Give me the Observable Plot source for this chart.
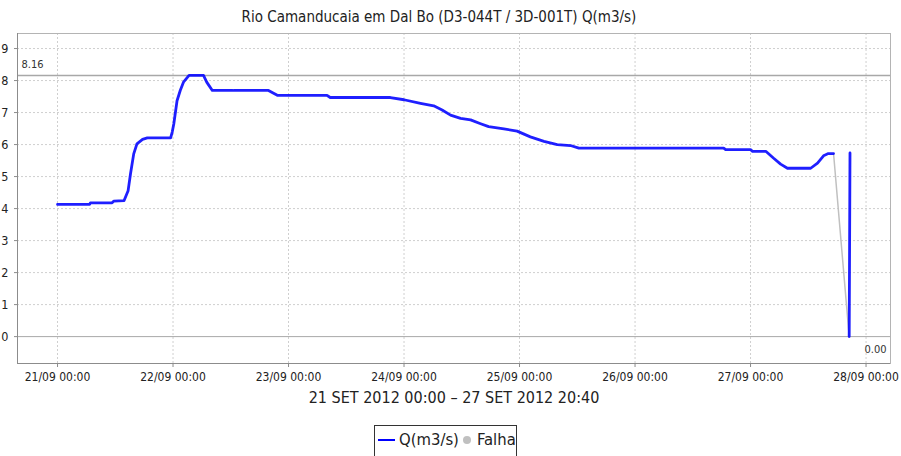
<!DOCTYPE html>
<html>
<head>
<meta charset="utf-8">
<script src="https://cdn.jsdelivr.net/npm/d3@7"></script>
<script src="https://cdn.jsdelivr.net/npm/@observablehq/plot@0.6"></script>
<style>
  html, body { margin: 0; padding: 0; background: #fff; }
  #wrap { position: relative; width: 901px; height: 456px; overflow: hidden; font-family: 'DejaVu Sans Condensed', 'DejaVu Sans', sans-serif; color: #222; }
  #title { position: absolute; left: 0; top: 8px; width: 878px; text-align: center; font-size: 15px; line-height: 18px; }
  #chart { position: absolute; left: 0; top: 0; }
  #legend { position: absolute; left: 374px; top: 425px; width: 141px; height: 40px; border: 1px solid #333; background: #fff; font-size: 16.5px; }
  #legend .sw { position: absolute; top: 13px; left: 3px; width: 17px; height: 2px; background: #0000ff; }
  #legend .t1 { position: absolute; top: 4px; left: 24px; line-height: 20px; }
  #legend .dot { position: absolute; top: 10px; left: 88px; width: 8px; height: 8px; border-radius: 50%; background: #c0c0c0; }
  #legend .t2 { position: absolute; top: 4px; left: 102px; line-height: 20px; }
</style>
</head>
<body>
<div id="wrap">
  <div id="title"></div>
  <div id="chart"></div>
  <div id="legend"><div class="sw"></div><div class="t1"></div><div class="dot"></div><div class="t2"></div></div>
</div>
<script>
// ---- data ----
const titleText = "Rio Camanducaia em Dal Bo (D3-044T / 3D-001T) Q(m3/s)";
const periodLabel = "21 SET 2012 00:00 – 27 SET 2012 20:40";
const seriesName = "Q(m3/s)";
const failName = "Falha";

const qTimes = [
  "2012-09-21T00:00","2012-09-21T06:40","2012-09-21T06:50","2012-09-21T11:20","2012-09-21T11:40",
  "2012-09-21T13:50","2012-09-21T14:40","2012-09-21T15:10","2012-09-21T15:50","2012-09-21T16:30",
  "2012-09-21T17:40","2012-09-21T18:40","2012-09-21T23:30","2012-09-21T23:50","2012-09-22T00:10",
  "2012-09-22T00:50","2012-09-22T01:30","2012-09-22T02:10","2012-09-22T03:20","2012-09-22T06:20",
  "2012-09-22T07:00","2012-09-22T08:10","2012-09-22T12:20","2012-09-22T12:30","2012-09-22T12:40",
  "2012-09-22T19:50","2012-09-22T21:40","2012-09-23T08:00","2012-09-23T08:40","2012-09-23T21:10",
  "2012-09-24T00:00","2012-09-24T03:25","2012-09-24T06:10","2012-09-24T07:55","2012-09-24T09:40",
  "2012-09-24T11:45","2012-09-24T13:50","2012-09-24T15:55","2012-09-24T17:35","2012-09-24T20:45",
  "2012-09-24T23:30","2012-09-25T02:15","2012-09-25T05:05","2012-09-25T07:50","2012-09-25T10:35",
  "2012-09-25T12:20","2012-09-26T18:25","2012-09-26T18:50","2012-09-27T00:00","2012-09-27T00:25",
  "2012-09-27T03:10","2012-09-27T04:45","2012-09-27T06:15","2012-09-27T07:40","2012-09-27T12:30",
  "2012-09-27T13:55","2012-09-27T15:10","2012-09-27T16:10","2012-09-27T17:15","2012-09-27T18:00",
  "2012-09-27T20:30","2012-09-27T20:40"
];
const qValues = [
  4.13, 4.13, 4.18, 4.18, 4.23,
  4.25, 4.56, 5.09, 5.71, 6.02,
  6.16, 6.21, 6.21, 6.39, 6.65,
  7.37, 7.69, 7.95, 8.16, 8.16,
  7.95, 7.69, 7.69, null, 7.69,
  7.69, 7.54, 7.54, 7.47, 7.47,
  7.40, 7.29, 7.21, 7.08, 6.92,
  6.82, 6.77, 6.65, 6.56, 6.49,
  6.42, 6.24, 6.10, 6.00, 5.97,
  5.89, 5.89, 5.84, 5.84, 5.79,
  5.79, 5.58, 5.39, 5.26, 5.26,
  5.42, 5.65, 5.72, 5.72, null,
  0.00, 5.74
];
const failTimes = ["2012-09-27T17:15", "2012-09-27T20:30"];
const failValues = [5.72, 0.00];

const refValue = 8.16;
const minValue = 0.00;
const xDomain = ["2012-09-20T15:41", "2012-09-28T05:05"];
const xTickDays = ["2012-09-21T00:00","2012-09-22T00:00","2012-09-23T00:00","2012-09-24T00:00",
                   "2012-09-25T00:00","2012-09-26T00:00","2012-09-27T00:00","2012-09-28T00:00"];
const yTicks = [0, 1, 2, 3, 4, 5, 6, 7, 8, 9];
const yDomain = [-0.84, 9.47];

// ---- build ----
const parse = d3.utcParse("%Y-%m-%dT%H:%M");
const main = qTimes.map((t, i) => ({t: parse(t), v: qValues[i]}));
const fail = failTimes.map((t, i) => ({t: parse(t), v: failValues[i]}));
const dayTicks = xTickDays.map(parse);
const fmt = d3.utcFormat("%d/%m %H:%M");

document.getElementById("title").textContent = titleText;
document.querySelector("#legend .t1").textContent = seriesName;
document.querySelector("#legend .t2").textContent = failName;

const chart = Plot.plot({
  width: 901,
  height: 420,
  marginTop: 33,
  marginBottom: 57,
  marginLeft: 17,
  marginRight: 11,
  style: {fontFamily: "'DejaVu Sans Condensed', 'DejaVu Sans', sans-serif", fontSize: "12px", color: "#222", background: "transparent", overflow: "visible"},
  x: {type: "utc", domain: xDomain.map(parse)},
  y: {domain: yDomain},
  marks: [
    Plot.gridX(dayTicks, {stroke: "#cfcfcf", strokeOpacity: 1, strokeDasharray: "2,2"}),
    Plot.gridY(yTicks.filter(d => d !== 0), {stroke: "#cfcfcf", strokeOpacity: 1, strokeDasharray: "2,2"}),
    Plot.ruleY([0], {stroke: "#a8a8a8", strokeWidth: 1}),
    Plot.ruleY([refValue], {stroke: "#a8a8a8", strokeWidth: 1.5}),
    Plot.frame({stroke: "#b4b4b4"}),
    Plot.ruleX([xDomain[0]].map(parse), {stroke: "#8c8c8c"}),
    Plot.ruleY([yDomain[0]], {stroke: "#8c8c8c"}),
    Plot.axisX(dayTicks, {tickFormat: fmt, tickSize: 4, tickPadding: 5, stroke: "#8c8c8c", label: null, fontSize: 12}),
    Plot.axisY(yTicks, {tickSize: 3, tickPadding: 6, stroke: "#8c8c8c", label: null, fontSize: 12.5}),
    Plot.line(fail, {x: "t", y: "v", stroke: "#c0c0c0", strokeWidth: 1.5}),
    Plot.line(main, {x: "t", y: "v", stroke: "#0000ff", strokeWidth: 2.8, strokeOpacity: 0.88}),
    Plot.text([refValue], {y: d => d, frameAnchor: "left", dx: 4, dy: -11, textAnchor: "start", text: d => d.toFixed(2), fontSize: 11, fill: "#333"}),
    Plot.text([minValue], {y: d => d, frameAnchor: "right", dx: -4, dy: 13, textAnchor: "end", text: d => d.toFixed(2), fontSize: 11, fill: "#333"}),
    Plot.text([periodLabel], {text: d => d, frameAnchor: "bottom", dy: 39, fontSize: 16, fill: "#222"})
  ]
});
document.getElementById("chart").appendChild(chart);
</script>
</body>
</html>
